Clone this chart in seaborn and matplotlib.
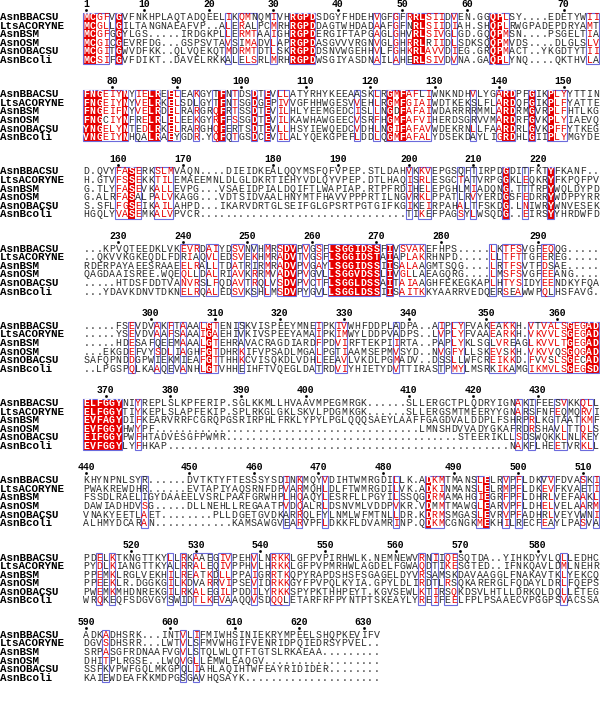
import numpy as np
import seaborn as sns
import matplotlib
matplotlib.use('Agg')
import matplotlib.pyplot as plt
from matplotlib.colors import ListedColormap
from matplotlib.patches import Rectangle

names = ['AsnBBACSU', 'LtsACORYNE', 'AsnBSM', 'AsnOSM', 'AsnOBACSU', 'AsnBcoli']

AsnBBACSU = [
    "MCGFVGVFNKHPLAQTADQEELIKQMNQMIVHRGPDSDGYFHDEHVGFGFRRLSIIDVEN.GGQPLSY....EDETYWII",
    "FNGEIYNYIELREELEAKGYTFNTDSDTEVLLATYRHYKEEAASKLRGMFAFLIWNKNDHVLYGARDPFGIKPLYYTTIN",
    "D.QVYFASERKSLMVAQN....DIEIDKEALQQYMSFQFVPEP.STLDAHVKKVEPGSQFTIRPDGDITFKTYFKANF..",
    "...KPVQTEEDKLVKEVRDAIYDSVNVHMRSDVPVGSFLSGGIDSSFIVSVAKEFHPS.....LKTFSVGFEQQG.....",
    ".....FSEVDVAKFTAAALGTENISKVISPEEYMNEIPKIVWHFDDPLADPA..AIPLYFVAKEAKKH.VTVALSGEGAD",
    "ELFGGYNIYREPLSLKPFERIP.SGLKKMLLHVAAVMPEGMRGK......SLLERGCTPLQDRYIGNAKIFEESVKKQLL",
    "KHYNPNLSYR......DVTKTYFTESSSYSDINKMQYVDIHTWMRGDILLK.ADKMTMANSLELRVPFLDKVVFDVASKI",
    "PDELKTKNGTTKYLLRKAAEGIVPEHVLNRKKLGFPVPIRHWLK.NEMNEWVRNIIQESQTDA..YIHKDYVLQLLEDHC",
    "ADKADHSRK...INTVLIFMIWHSINIEKRYMPEELSHQPKEVIFV",
]
LtsACORYNE = [
    "MCGLLGILTANGNAEAFVP..ALERALPCMRHRGPDDAGTWHDADAAFGFNRLSIIDIAH.SHQPLRWGPADEPDRYAMT",
    "FNGEIYNYVELRKELSDLGYTFNTSGDGEPIVVGFHHWGESVVEHLRGMFGIAIWDTKEKSLFLARDQFGIKPLFYATTE",
    "H.GTVFSSEKKTILEMAEEMNLDLGLDKRTIEHYVDLQYVPEP.DTLHAQISRLESGCTATVRPGGKLEQKRYFKPQFPV",
    "..QKVVKGKEQDLFDRIAQVLEDSVEKHMRADVTVGSFLSGGIDSTAIAPLAKRHNPD.....LLTFTTGFEREG.....",
    ".....YSEVDVAAFSAAAIGAEHIVKIVSPEEYAMAIPKIMWYLDDPVADPS..LVPLYFVAAEARKH.VKVVLSGEGAD",
    "ELFGGYTIYKEPLSLAPFEKIP.SPLRKGLGKLSKVLPDGMKGK......SLLERGSMTMEERYYGNARSFNFEQMQRVI",
    "PWAKREWDHR......EVTAPIYAQSRNFDPVARMQHLDLFTWMRGDILVK.ADKINMANSLELRMPFLDKEVFKVAETI",
    "PYDLKIANGTTKYALRRALEQIVPPHVLHRKKLGFPVPMRHWLAGDELFGWAQDTIKESGTED..IFNKQAVLDMLNEHR",
    "DGVSDHSRR...LWTVLSFMVWHGIFVENRIDPQIEDRSYPVEL..",
]
AsnBSM = [
    "MCGFGGYLGS.....IRDGKPLLERMTAAIGHRGPDERGIFTAPGAGLGHVRLSIVGLGD.GQQPMSN....PSGELTIA",
    "FNGEIFNYVELRDELRARGRQFRTSSDTEVILHLYEEMGEDCISLLNGDFAFAIWDARRRRMMLARDRMGVRPLFHTLKG",
    "G.TLYFASEVKALLEVPG...VSAEIDPIALDQIFTLWAPIAP.RTPFRDIHELEPGHLMIADQNG.TTTRPYWQLDYPD",
    "RDERPAYAEESRAAEELRALLTDATRIRMRADVPVGAYLSGGIDSSIISALAAGMTSQG....LRTFSVTFDSAE.....",
    ".....HDESAFQEEMAAALGTEHRAVACRAGDIARDFPDVIRFTEKPIIRTA..PAPLYKLSGLVREAGLKVVLTGEGAD",
    "EVFAGYDIFKEARVRRFCGRQPGSRIRPHLFRKLYPYLPGLQQQSAEYLAAFFGAGDVALDDPLFSHRPRLKGTAATKMF",
    "FSSDLRAELIGYDAAEELVSRLPAAFGRWHPLHQAQYLESRFLLPGYILSSQGDRMAMAHGIEGRFPFLDHRLVEFAAKL",
    "PPEMKLRGLVEKHILREATKDLLPPAIGRRTKQPYRAPDSHSFSGAGELDYVRSAMSKDAVAAGGLFNAKAVTKLYEKCQ",
    "SRPASGFRDNAAFVGVLSTQLWLQTFTGTSLRKAEAA.........",
]
AsnOSM = [
    "MCGICGEVRFDG...GSPSVTAVSIMADVLAPRGPDASGVVVRGNVGLGHRRLRIIDLSDKSQQPMVDS....DLGLSLV",
    "FNGCIYNFRELRLELEEKGYRFFSSGDTEVILKAWHAWGEECVSRFHGMFAFVIHERDSGRVVMARDRFGVKPLYIAEVQ",
    "G.ALRFASALPALVKAGG...VDTSIDVAALHNYMTFHAVVPPPRTILNGVRKLPPATLRVYERDGSFEDRRYWDPPYRR",
    "QAGDAAISREE.WQEQLLDALRIAVKRRMVADVPVGVLLSGGVDSSLIVGLLAEAGQRG....LMSFSVGFEEANG....",
    "...EKGDEFVYSDLIAGHFGTDHRKIFVPSADLMGALPGTIAAMSEPMVSYD..NVGFYLLSKEVSKH.VKVVQSGQGAD",
    "EVFGGYHWYPF" + "." * 41 + "LMNSHDVVADYGKAFRDRSHAVLTTQLS",
    "DAWIADHDVSG.....DLLNEHLLREGAATPVDQALRLDSNVMLVDDPVKR.VDMMTMAWGLEARVPFLDHELVELAARM",
    "PPEEKLR.DGGKGILKDVARRVIPSEVIDRKKGYFPVPQLKYIA.GPYLDLIRDTLRSQKARERGLFQDAYLDRLFQEPS",
    "DHITPLRGSE..LWQVGLLEMWLEAQGV" + "." * 18,
]
AsnOBACSU = [
    "MCGITGWVDFKK..QLVQEKQTMDRMTDTLSKRGPDDSNVWGEHHVLFGHKRLAVVDIEG.GRQPMACT..YKGDTYTII",
    "YNGELYNTEDLRKELRARGHQFERTSDTEVLLHSYIEWQEDCVDHLNGIFAFAVWDEKRNLLFAARDRLGVKPFFYTKEG",
    "S.SFLFGSEIKAILAHPD...IKARVDRTGLSEIFGLGPSRTPGTGIFKGIKEIRPAHALTFSKDG.LNIWRYWNVESEK",
    ".....HTDSFDDTVANVRSLFQDAVTRQLVSDVPVCTFLSGGLDSSAITAIAAGHFEKEGKAPLHTYSIDYEENDKYFQA",
    "SAFQPNDDGPWIEKMIEAFGTTHHKCVISQKDLVDHLEEAVLVKDLPGMADV..DSSLLWFCREIKKD.FVVSLSGECAD",
    "EIFGGYPWFHTADVESGFPWMR" + "." * 36 + "STEERIKLLSDSWQKKLNLKEY",
    "VNAKYEETLAET........PLLDGETGVDKARRQLFYLNMLWFMTNLLDR.KDRMSMGASLEVRVPFADHRLVEYVWNI",
    "PWEMKMHDNREKGILRKALEGILPDDILYRKKSPYPKTHHPEYT.KGVSEWLKTIRSQKDSVLHTLLDRKQLDQLLETEG",
    "SSFKVPWFGQLMKGPQLIAHLAQIHTWFEAYRIDIDER" + "." * 8,
]
AsnBcoli = [
    "MCSIFGVFDIKT..DAVELRKKALELSRLMRHRGPDWSGIYASDNAILAHERLSIVDVNA.GAQPLYNQ....QKTHVLA",
    "VNGEIYNHQALRAEYGDR.YQFQTGSDCEVILALYQEKGPEFLDDLQGMFAFALYDSEKDAYLIGRDHLGIIPLYMGYDE",
    "HGQLYVASEMKALVPVCR" + "." * 32 + "TIKEFPAGSYLWSQDG..EIRSYYHRDWFD",
    "...YDAVKDNVTDKNELRQALEDSVKSHLMSDVPYGVLLSGGLDSSIISAITKKYAARRVEDQERSEAWWPQLHSFAVG.",
    "..LPGSPQLKAAQEVANHLGTVHHEIHFTVQEGLDATRDVIYHIETYDVTTIRASTPMYLMSRKIKAMGIKMVLSGEGSD",
    "EVFGGYLYFHKAP" + "." * 53 + "NAKFLHEETVRKLL",
    "ALHMYDCARAN" + "." * 12 + "KAMSAWGVEARVPFLDKKFLDVAMRINP.QDKMCGNGKMEKHILRECFEAYLPASVA",
    "WRQKEQFSDGVGYSWIDTLKEVAAQQVSDQQLETARFRFPYNTPTSKEAYLYREIFEELFPLPSAAECVPGGPSVACSSA",
    "KAIEWDEAFKKMDPGSGAVHQSAYK" + "." * 21,
]

# strictly conserved columns (red background), per block, 1-based
red_cols = [
    [1, 2, 6, 33, 34, 35, 36, 52, 53, 64, 65],
    [1, 2, 3, 7, 11, 12, 14, 22, 27, 29, 48, 50, 66, 67, 70, 73],
    [8, 66, 73],
    [32, 33, 39, 40, 41, 42, 43, 44, 45, 46, 48],
    [20, 76, 79, 80],
    [1, 2, 3, 4, 5, 6],
    [54, 63],
    [],
    [],
]
# similar columns (framed, red letters)
box_cols = [
    [3, 4, 23, 25, 26, 27, 30, 46, 49, 51, 54, 55, 56, 58, 66, 79, 80],
    [4, 5, 6, 9, 10, 15, 18, 21, 24, 31, 32, 43, 46, 49, 51, 52, 53, 54, 61, 65, 74, 75],
    [6, 7, 9, 12, 13, 14, 51, 53, 54, 59, 61, 69],
    [16, 17, 18, 20, 21, 24, 25, 27, 29, 31, 35, 37, 50, 51, 52, 53, 64, 66, 67, 68, 72, 73],
    [8, 12, 14, 16, 19, 21, 25, 37, 40, 41, 49, 56, 58, 59, 64, 65, 66, 67, 70, 71, 72, 73, 74, 75, 77, 78],
    [9, 68, 70, 74, 75, 78, 79],
    [10, 32, 34, 38, 49, 55, 56, 62, 66, 68, 72, 73, 78, 80],
    [3, 5, 14, 16, 18, 19, 20, 22, 23, 27, 30, 31, 32, 53, 55, 57, 58, 75],
    [4, 16, 18],
]

groups = ['ILVM', 'FYW', 'KRQ', 'DENQ', 'STAG', 'ILVMF', 'FYWH', 'KRH', 'AV']

seqs = [AsnBBACSU, LtsACORYNE, AsnBSM, AsnOSM, AsnOBACSU, AsnBcoli]
nblk = len(AsnBBACSU)
ncol = 80
brows = 9
for s in seqs:
    for b in range(nblk):
        assert len(s[b]) == len(AsnBBACSU[b]), (b, len(s[b]), s[b])

RED = '#e60000'
BLUE = '#6b6bdc'

red = np.full((nblk * brows, ncol), np.nan)
for b in range(nblk):
    for c in red_cols[b]:
        red[b * brows + 2:b * brows + 8, c - 1] = 1

sns.set_theme(style='white')
plt.rcParams['font.family'] = ['Liberation Mono', 'DejaVu Sans Mono']

fig = plt.figure(figsize=(6, 7.18), dpi=100)
ax = fig.add_axes([0, 0, 1, 1])
sns.heatmap(red, cmap=ListedColormap([RED]), cbar=False, ax=ax,
            xticklabels=False, yticklabels=False)
ax.set_xlim(-12.87, 80.15)
ax.set_ylim(84.2, 0.52)
ax.axis('off')

resnum = 0
for b in range(nblk):
    top = b * brows + 2
    width = len(AsnBBACSU[b])
    # residue numbering from the first sequence
    for c, ch in enumerate(AsnBBACSU[b]):
        if ch == '.':
            continue
        resnum += 1
        if resnum == 1 or resnum % 10 == 0:
            ax.text(c + 0.5, b * brows + 1.0, str(resnum), ha='center', va='center',
                    fontsize=7, fontweight='bold', color='black')
            ax.plot(c + 0.5, b * brows + 1.7, marker='s', ms=0.9, color='black')
    for r, name in enumerate(names):
        ax.text(-12.82, top + r + 0.5, name, ha='left', va='center',
                fontsize=7.8, fontweight='bold', color='black')
    for c in range(width):
        col = [s[b][c] for s in seqs]
        cnum = c + 1
        if cnum in box_cols[b]:
            best = ''
            bestn = 0
            for g in groups:
                n = sum(1 for a in col if a in g)
                if n > bestn:
                    best, bestn = g, n
        for r, a in enumerate(col):
            y = top + r + 0.5
            if cnum in red_cols[b]:
                ax.text(c + 0.5, y, a, ha='center', va='center', fontsize=7.1,
                        fontweight='bold', color='white')
            elif cnum in box_cols[b] and a in best:
                ax.text(c + 0.5, y, a, ha='center', va='center', fontsize=7.1,
                        color=RED)
            else:
                ax.text(c + 0.5, y, a, ha='center', va='center', fontsize=7.1,
                        color='#2a2a2a')
    # frames around runs of conserved columns
    cons = sorted(set(red_cols[b]) | set(box_cols[b]))
    runs = []
    for c in cons:
        if runs and c == runs[-1][1] + 1:
            runs[-1][1] = c
        else:
            runs.append([c, c])
    for s0, s1 in runs:
        ax.add_patch(Rectangle((s0 - 1, top), s1 - s0 + 1, 6, fill=False,
                               edgecolor=BLUE, linewidth=0.8))

fig.savefig('out.png', dpi=100)
